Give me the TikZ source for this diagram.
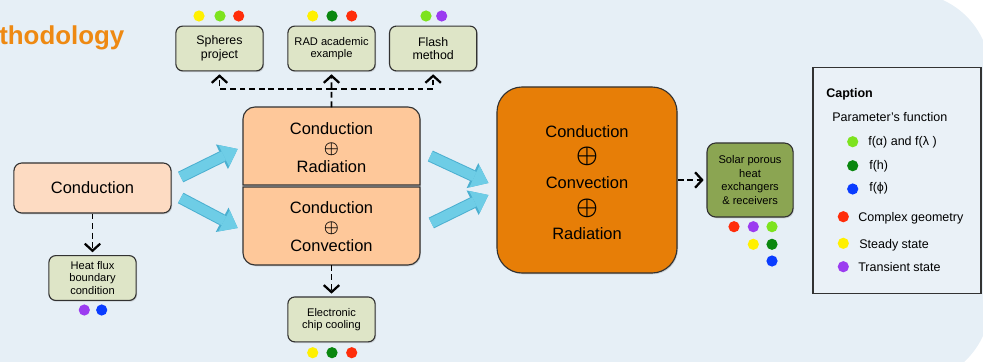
\documentclass[tikz,border=0pt]{standalone}
\usepackage{fontspec}
\setmainfont{Liberation Sans}
\usepackage{amsmath}
\usepackage{tikz}
\usetikzlibrary{
        shadows,
        positioning,
        arrows.meta
    }
\definecolor{panelblue}{RGB}{230,239,246}
\definecolor{legendfill}{RGB}{234,241,247}
\definecolor{titleorange}{RGB}{238,137,18}
\definecolor{casefill}{RGB}{222,229,199}
\definecolor{condfill}{RGB}{253,219,194}
\definecolor{mixfill}{RGB}{254,200,154}
\definecolor{allfill}{RGB}{231,126,7}
\definecolor{solarfill}{RGB}{139,165,82}
\definecolor{boxline}{RGB}{50,50,50}
\definecolor{arrowcyan}{RGB}{110,205,230}
\definecolor{arrowedge}{RGB}{75,175,208}
\definecolor{dotyellow}{RGB}{255,240,0}
\definecolor{dotlime}{RGB}{125,227,30}
\definecolor{dotred}{RGB}{255,45,10}
\definecolor{dotgreen}{RGB}{10,135,15}
\definecolor{dotblue}{RGB}{10,60,255}
\definecolor{dotpurple}{RGB}{155,60,240}

\begin{document}
\begin{tikzpicture}
[x=0.025cm, y=0.025cm,
baseshape/.style={rectangle, draw=boxline, line width=0.8pt, text centered, align=center, drop shadow={opacity=0.3, shadow xshift=0.7pt, shadow yshift=-0.9pt}},
casebox/.style={baseshape, fill=casefill, rounded corners=0.17cm, minimum width=2.18cm, minimum height=1.12cm, font=\fontsize{8.8}{9.6}\selectfont},
smallcase/.style={casebox, font=\fontsize{7.9}{8.9}\selectfont},
mixbox/.style={draw=boxline, line width=0.8pt, fill=mixfill, drop shadow={opacity=0.3, shadow xshift=0.7pt, shadow yshift=-0.9pt}},
mixtext/.style={minimum width=4.425cm, minimum height=1.95cm, align=center, font=\fontsize{11.7}{13.5}\selectfont},
dasharrow/.style={line width=1.2pt, dash pattern=on 4.2pt off 2.6pt, -{Straight Barb[length=5pt,width=11pt,line width=1.6pt]}, shorten >=2pt},
fatarrow/.style={draw=arrowcyan, line width=7pt, -{Triangle[width=17pt,length=11pt,line width=0pt]},
  preaction={draw=arrowedge, line width=8.4pt, -{Triangle[width=19.5pt,length=12.5pt,line width=0pt]}}},
legend/.style={anchor=base west, inner sep=0pt, font=\fontsize{8.9}{10}\selectfont},
node distance=2cm]
\useasboundingbox (0,0) rectangle (983,-361);
\fill[panelblue, rounded corners=2cm] (-80,7) rectangle (990,-383);

\node (title) [anchor=base west, inner sep=0pt, text=titleorange, font=\bfseries\fontsize{18.4}{20}\selectfont] at (-1,-45) {thodology};

% test cases on top
\node (spheres) [casebox] at (219.5,-48.5) {Spheres\\project};
\node (rad) [smallcase, right of=spheres, xshift=0.8cm] {RAD academic\\example};
\node (flash) [casebox, right of=rad, xshift=0.54cm] {Flash\\method};

% coupled problems
\node (cond) [baseshape, fill=condfill, rounded corners=0.2cm, minimum width=3.93cm, minimum height=1.25cm, font=\fontsize{11.7}{13.5}\selectfont] at (92.5,-188) {Conduction};
\node (heat) [smallcase, below of=cond, yshift=-0.25cm] {Heat flux\\boundary\\condition};

\path[mixbox] (243,-185) [rounded corners=0.3cm] -- (243,-107) -- (420,-107) [sharp corners] -- (420,-185) -- cycle;
\path[mixbox] (420,-187) -- (243,-187) [rounded corners=0.3cm] -- (243,-265) -- (420,-265) [sharp corners] -- cycle;
\node (condrad) [mixtext] at (331.5,-148) {Conduction\\$\boldsymbol{\oplus}$\\Radiation};
\node (condconv) [mixtext] at (331.5,-227) {Conduction\\$\boldsymbol{\oplus}$\\Convection};
\node (chip) [smallcase, below of=condconv, yshift=-0.31cm] {Electronic\\chip cooling};

\node (allbox) [baseshape, fill=allfill, rounded corners=0.63cm, minimum width=4.5cm, minimum height=4.65cm, font=\fontsize{11.7}{18.2}\selectfont] at (587,-180) {\\[-6pt]Conduction\\\scalebox{1.45}{$\boldsymbol{\oplus}$}\\Convection\\\scalebox{1.45}{$\boldsymbol{\oplus}$}\\Radiation};
\node (solar) [baseshape, fill=solarfill, rounded corners=0.22cm, minimum width=2.15cm, minimum height=1.85cm, font=\fontsize{7.9}{9.6}\selectfont, right of=allbox, xshift=2.075cm] {Solar porous\\heat\\exchangers\\\& receivers};

% links
\coordinate (split) at (331.5,-89);
\draw[dasharrow] ([yshift=1pt]condrad.north) -- (rad.south);
\draw[dasharrow] (split) -| (spheres.south);
\draw[dasharrow] (split) -| (flash.south);
\draw[dasharrow] (cond.south) -- (heat.north);
\draw[dasharrow] ([yshift=1pt]condconv.south) -- (chip.north);
\draw[dasharrow] (allbox.east) -- (solar.west);

\draw[fatarrow] ([shift={(9,11)}]cond.east) -- ([shift={(-5,-1)}]condrad.west);
\draw[fatarrow] ([shift={(9,-10)}]cond.east) -- ([shift={(-5,-1)}]condconv.west);
\draw[fatarrow] ([shift={(10,-8)}]condrad.east) -- ([shift={(-8,-3)}]allbox.west);
\draw[fatarrow] ([shift={(11,4)}]condconv.east) -- ([shift={(-8,-15)}]allbox.west);

% caption
\node (caption) [baseshape, fill=legendfill, minimum width=4.2cm, minimum height=5.63cm] at (897,-180.5) {};
\node (capname) [legend, font=\bfseries\fontsize{8.9}{10}\selectfont] at (826,-97) {Caption};
\node (capparam) [legend] at (832,-121.5) {Parameter’s function};
\node (capalpha) [legend] at (868,-145.5) {f(α) and f(λ )};
\node (caph) [legend] at (869,-169.5) {f(h)};
\node (capphi) [legend] at (869,-191) {f(ϕ)};
\node (capgeom) [legend] at (858,-221) {Complex geometry};
\node (capsteady) [legend] at (859,-248) {Steady state};
\node (captrans) [legend] at (858,-271) {Transient state};

% parameter dots
\foreach \px/\py/\col in {199/16/dotyellow, 220/16/dotlime, 238.7/16/dotred,
  312.7/16/dotyellow, 332/16/dotgreen, 351.7/16/dotred,
  426/16/dotlime, 441.7/16/dotpurple,
  84.3/310/dotpurple, 101.7/310/dotblue,
  312.7/352.7/dotyellow, 332/352.7/dotgreen, 351.7/352.7/dotred,
  734/226.7/dotred, 753.3/226.7/dotpurple, 772/226.7/dotlime,
  753.3/244.3/dotyellow, 772/244.3/dotgreen, 772/261/dotblue,
  852.7/141.7/dotlime, 852.7/165.7/dotgreen, 852.7/189/dotblue,
  843.3/216.7/dotred, 843.3/243.3/dotyellow, 843.3/266.7/dotpurple}
  \fill[\col] (\px,-\py) circle (5.6);

\end{tikzpicture}
\end{document}
